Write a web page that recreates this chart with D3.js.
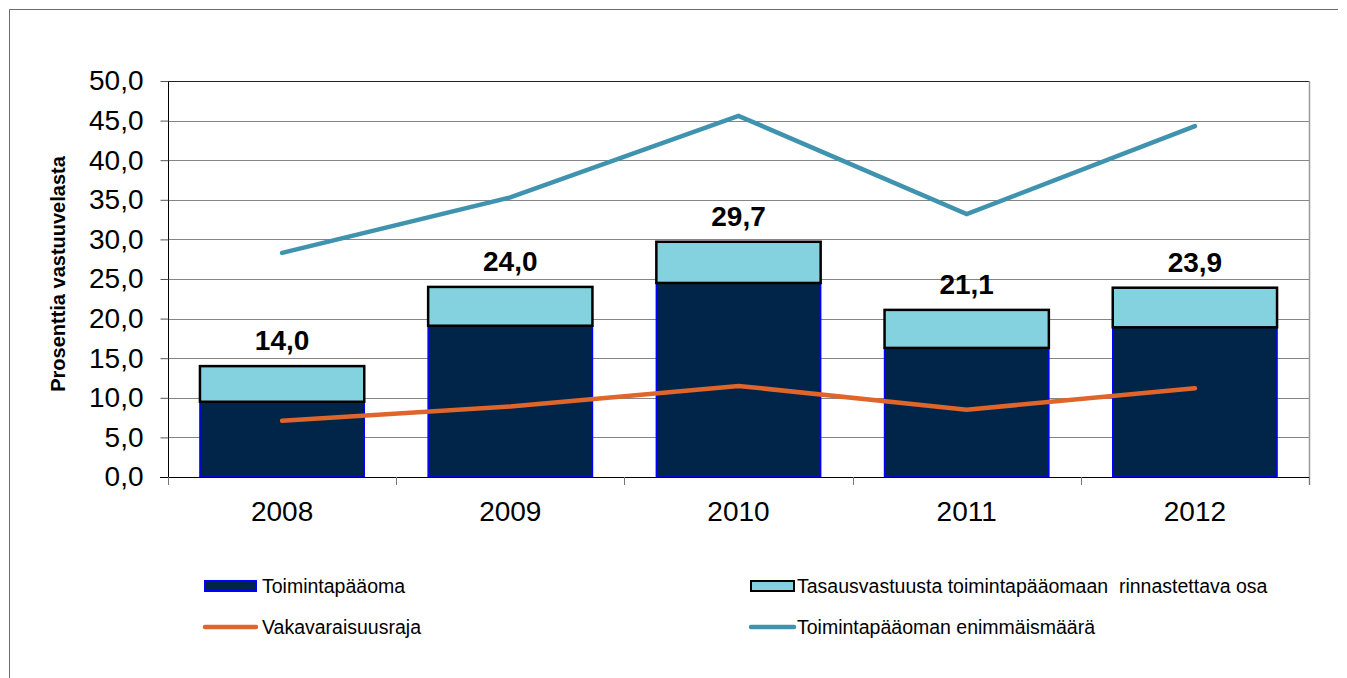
<!DOCTYPE html>
<meta charset="utf-8">
<script src="https://d3js.org/d3.v7.min.js"></script>
<style>
  body { margin: 0; background: #fff; }
  svg { font-family: "Liberation Sans", Arial, sans-serif; }
</style>
<div id="chart"></div>
<script>

// data
const years = ["2008", "2009", "2010", "2011", "2012"];
const toimintapaaoma = [9.5, 19.1, 24.5, 16.3, 18.9];
const tasausosa = [4.5, 4.9, 5.2, 4.8, 5.0];
const vakavaraisuusraja = [7.1, 8.9, 11.5, 8.5, 11.2];
const enimmaismaara = [28.3, 35.3, 45.6, 33.2, 44.3];
const yTicks = [0, 5, 10, 15, 20, 25, 30, 35, 40, 45, 50];

const W = 1347, H = 678;
const margin = {top: 81, right: 38, bottom: 201, left: 168};
const width = W - margin.left - margin.right,
      height = H - margin.top - margin.bottom;

const svg = d3.select("#chart").append("svg")
    .attr("width", W)
    .attr("height", H);

// outer frame (only top and left show)
svg.append("path")
    .attr("d", "M9.5," + H + "V9.5H1338")
    .attr("fill", "none")
    .attr("stroke", "#6b6b6b")
    .attr("stroke-width", 1);

const g = svg.append("g")
    .attr("transform", "translate(" + margin.left + "," + margin.top + ")");

const x = d3.scaleBand()
    .domain(years)
    .range([0, width])
    .paddingInner(0.28)
    .paddingOuter(0.14);

const y = d3.scaleLinear()
    .domain([0, 50])
    .range([height, 0]);

const fmt = v => d3.format(".1f")(v).replace(".", ",");

// gridlines
g.append("g")
  .selectAll("line")
  .data(yTicks.slice(1))
  .enter().append("line")
    .attr("x1", 0).attr("x2", width)
    .attr("y1", d => Math.round(y(d)) + 0.5)
    .attr("y2", d => Math.round(y(d)) + 0.5)
    .attr("stroke", d => d === 50 ? "#222" : "#858585")
    .attr("stroke-width", 1);

// right plot border
g.append("line")
    .attr("x1", width + 0.5).attr("x2", width + 0.5)
    .attr("y1", 0).attr("y2", height + 8)
    .attr("stroke", "#9a9a9a")
    .attr("stroke-width", 1.5);

// y axis
const yAxis = g.append("g")
    .attr("transform", "translate(0.5,0)")
    .call(d3.axisLeft(y).tickValues(yTicks).tickFormat(fmt).tickSize(8).tickPadding(17));
yAxis.select(".domain").attr("stroke", "#000").attr("d", "M0," + (height + 8) + "V0");
yAxis.selectAll(".tick line").attr("stroke", "#555");
yAxis.selectAll("text")
    .attr("font-size", 28)
    .attr("font-family", "Liberation Sans, Arial, sans-serif")
    .attr("fill", "#000");

// axis title
svg.append("text")
    .attr("transform", "translate(65,274) rotate(-90)")
    .attr("text-anchor", "middle")
    .attr("font-size", 20)
    .attr("font-weight", "bold")
    .text("Prosenttia vastuuvelasta");

// bars
const bars = g.append("g");
bars.selectAll("rect.dark")
  .data(years)
  .enter().append("rect")
    .attr("class", "dark")
    .attr("x", d => x(d))
    .attr("width", x.bandwidth())
    .attr("y", (d, i) => y(toimintapaaoma[i]))
    .attr("height", (d, i) => y(0) - y(toimintapaaoma[i]))
    .attr("fill", "#012548")
    .attr("stroke", "#0000ff")
    .attr("stroke-width", 1.5);

bars.selectAll("rect.light")
  .data(years)
  .enter().append("rect")
    .attr("class", "light")
    .attr("x", d => x(d))
    .attr("width", x.bandwidth())
    .attr("y", (d, i) => y(toimintapaaoma[i] + tasausosa[i]))
    .attr("height", (d, i) => y(toimintapaaoma[i]) - y(toimintapaaoma[i] + tasausosa[i]))
    .attr("fill", "#84d2df")
    .attr("stroke", "#000")
    .attr("stroke-width", 2.5);

// x axis
const xAxisG = g.append("g").attr("transform", "translate(0," + height + ")");
xAxisG.append("line")
    .attr("x1", -8).attr("x2", width)
    .attr("y1", 0.5).attr("y2", 0.5)
    .attr("stroke", "#000");
xAxisG.selectAll("line.tick")
  .data(d3.range(years.length + 1))
  .enter().append("line")
    .attr("class", "tick")
    .attr("x1", i => Math.round(i * x.step()) + 0.5)
    .attr("x2", i => Math.round(i * x.step()) + 0.5)
    .attr("y1", 0).attr("y2", 8)
    .attr("stroke", "#777");
xAxisG.selectAll("text")
  .data(years)
  .enter().append("text")
    .attr("x", d => x(d) + x.bandwidth() / 2)
    .attr("y", 44)
    .attr("text-anchor", "middle")
    .attr("font-size", 28)
    .text(d => d);

// lines
const line = d3.line()
    .x((d, i) => x(years[i]) + x.bandwidth() / 2)
    .y(d => y(d));

g.append("path")
    .datum(enimmaismaara)
    .attr("d", line)
    .attr("fill", "none")
    .attr("stroke", "#3f93ae")
    .attr("stroke-width", 4.5)
    .attr("stroke-linecap", "round");

g.append("path")
    .datum(vakavaraisuusraja)
    .attr("d", line)
    .attr("fill", "none")
    .attr("stroke", "#e0652b")
    .attr("stroke-width", 4.5)
    .attr("stroke-linecap", "round");

// totals on top of bars
g.append("g").selectAll("text")
  .data(years)
  .enter().append("text")
    .attr("x", d => x(d) + x.bandwidth() / 2)
    .attr("y", (d, i) => y(toimintapaaoma[i] + tasausosa[i]) - 16)
    .attr("text-anchor", "middle")
    .attr("font-size", 28)
    .attr("font-weight", "bold")
    .text((d, i) => fmt(toimintapaaoma[i] + tasausosa[i]));

// legend
const legendItems = [
  {label: "Toimintapääoma", type: "bar", fill: "#012548", stroke: "#0000ff", x: 204, y: 586},
  {label: "Tasausvastuusta toimintapääomaan  rinnastettava osa", type: "bar", fill: "#84d2df", stroke: "#000", x: 750, y: 586},
  {label: "Vakavaraisuusraja", type: "line", stroke: "#e0652b", x: 204, y: 627},
  {label: "Toimintapääoman enimmäismäärä", type: "line", stroke: "#3f93ae", x: 750, y: 627}
];

const leg = svg.append("g").selectAll("g")
  .data(legendItems)
  .enter().append("g")
    .attr("transform", d => "translate(" + d.x + "," + d.y + ")");

leg.filter(d => d.type === "bar").append("rect")
    .attr("x", 1).attr("y", -5)
    .attr("width", d => d.x === 204 ? 51 : 43)
    .attr("height", 10)
    .attr("fill", d => d.fill)
    .attr("stroke", d => d.stroke)
    .attr("stroke-width", 2);

leg.filter(d => d.type === "line").append("line")
    .attr("x1", 1)
    .attr("x2", d => d.x === 204 ? 52 : 44)
    .attr("y1", 0).attr("y2", 0)
    .attr("stroke", d => d.stroke)
    .attr("stroke-width", 4.5)
    .attr("stroke-linecap", "round");

leg.append("text")
    .attr("x", d => d.x === 204 ? 58 : 47)
    .attr("y", 0)
    .attr("dy", "0.35em")
    .attr("font-size", 19.5)
    .style("white-space", "pre")
    .text(d => d.label);

</script>
